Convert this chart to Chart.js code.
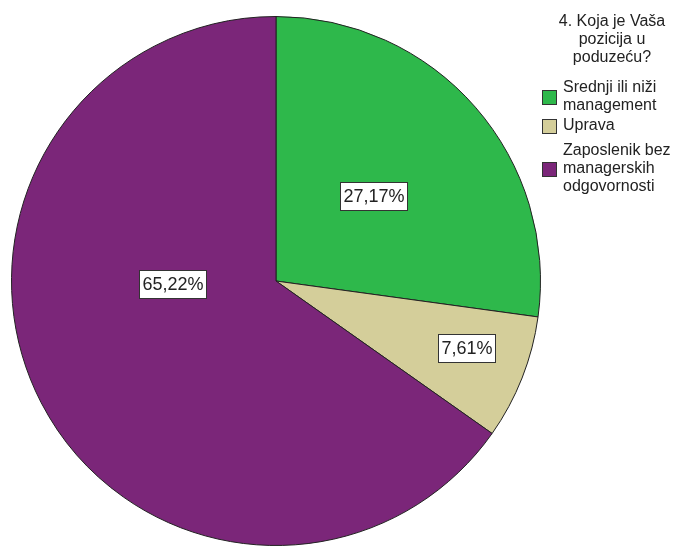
<!DOCTYPE html>
<html>
<head>
<meta charset="utf-8">
<script src="https://cdn.jsdelivr.net/npm/chart.js@4.4.1/dist/chart.umd.min.js"></script>
<style>
  html, body { margin: 0; padding: 0; background: #fff; overflow: hidden; }
  #wrap { position: relative; width: 684px; height: 546px; }
</style>
</head>
<body>
<div id="wrap"><canvas id="pie"></canvas></div>
<script>
// Survey question and answers
const legendTitle = ['4. Koja je Vaša', 'pozicija u', 'poduzeću?'];
const categories = [
    ['Srednji ili niži', 'management'],
    ['Uprava'],
    ['Zaposlenik bez', 'managerskih', 'odgovornosti']
];
const percents = [27.17, 7.61, 65.22];
const sliceColors = ['#2eb84b', '#d4ce9a', '#7b2679'];

const FONT = '"Liberation Sans", Arial, sans-serif';

// Where each percentage box sits: angle (fraction of a turn from 12 o'clock, null = slice middle)
// and distance from the centre as a fraction of the radius
const labelSpots = [
    { turn: null, r: 0.49 },
    { turn: 0.304, r: 0.762 },
    { turn: 0.745, r: 0.39 }
];

const fmt = v => v.toFixed(2).replace('.', ',') + '%';

// Boxed percentage labels on the slices
const sliceLabels = {
    id: 'sliceLabels',
    afterDatasetsDraw(chart) {
        const ctx = chart.ctx;
        const meta = chart.getDatasetMeta(0);
        ctx.save();
        ctx.font = '18px ' + FONT;
        ctx.textAlign = 'center';
        ctx.textBaseline = 'middle';
        meta.data.forEach((arc, i) => {
            const p = arc.getProps(['x', 'y', 'startAngle', 'endAngle', 'outerRadius'], true);
            const spot = labelSpots[i];
            const ang = spot.turn === null ? (p.startAngle + p.endAngle) / 2 : spot.turn * Math.PI * 2 - Math.PI / 2;
            const cx = p.x + Math.cos(ang) * p.outerRadius * spot.r;
            const cy = p.y + Math.sin(ang) * p.outerRadius * spot.r;
            const txt = fmt(chart.data.datasets[0].data[i]);
            const w = Math.round(ctx.measureText(txt).width + 6);
            const h = 28;
            const x0 = Math.round(cx - w / 2) + 0.5;
            const y0 = Math.round(cy - h / 2) + 0.5;
            ctx.fillStyle = '#fff';
            ctx.fillRect(x0, y0, w, h);
            ctx.strokeStyle = '#333';
            ctx.lineWidth = 1;
            ctx.strokeRect(x0, y0, w, h);
            ctx.fillStyle = '#222';
            ctx.fillText(txt, x0 + w / 2, y0 + h / 2 + 1);
        });
        ctx.restore();
    }
};

// Legend on the right with wrapped category names
const sideLegend = {
    id: 'sideLegend',
    afterDraw(chart) {
        const ctx = chart.ctx;
        const lh = 18;
        ctx.save();
        ctx.font = '16px ' + FONT;
        ctx.textBaseline = 'middle';
        ctx.fillStyle = '#222';
        ctx.textAlign = 'center';
        legendTitle.forEach((line, i) => ctx.fillText(line, 612, 22 + i * lh));

        ctx.textAlign = 'left';
        const itemTops = [88, 126, 151];
        categories.forEach((lines, i) => {
            const y = itemTops[i];
            const mid = y + (lines.length - 1) * lh / 2;
            ctx.fillStyle = sliceColors[i];
            ctx.fillRect(542.5, Math.round(mid - 7) + 0.5, 14, 14);
            ctx.strokeStyle = '#333';
            ctx.lineWidth = 1;
            ctx.strokeRect(542.5, Math.round(mid - 7) + 0.5, 14, 14);
            ctx.fillStyle = '#222';
            lines.forEach((line, k) => ctx.fillText(line, 563, y + k * lh));
        });
        ctx.restore();
    }
};

new Chart(document.getElementById('pie'), {
    type: 'pie',
    data: {
        labels: categories.map(c => c.join(' ')),
        datasets: [{
            data: percents,
            backgroundColor: sliceColors,
            borderColor: '#222',
            borderWidth: 1
        }]
    },
    options: {
        responsive: true,
        maintainAspectRatio: false,
        animation: false,
        layout: { padding: { left: 11, top: 16, right: 143, bottom: 0 } },
        plugins: {
            legend: { display: false },
            tooltip: { enabled: false }
        }
    },
    plugins: [sliceLabels, sideLegend]
});
</script>
</body>
</html>
